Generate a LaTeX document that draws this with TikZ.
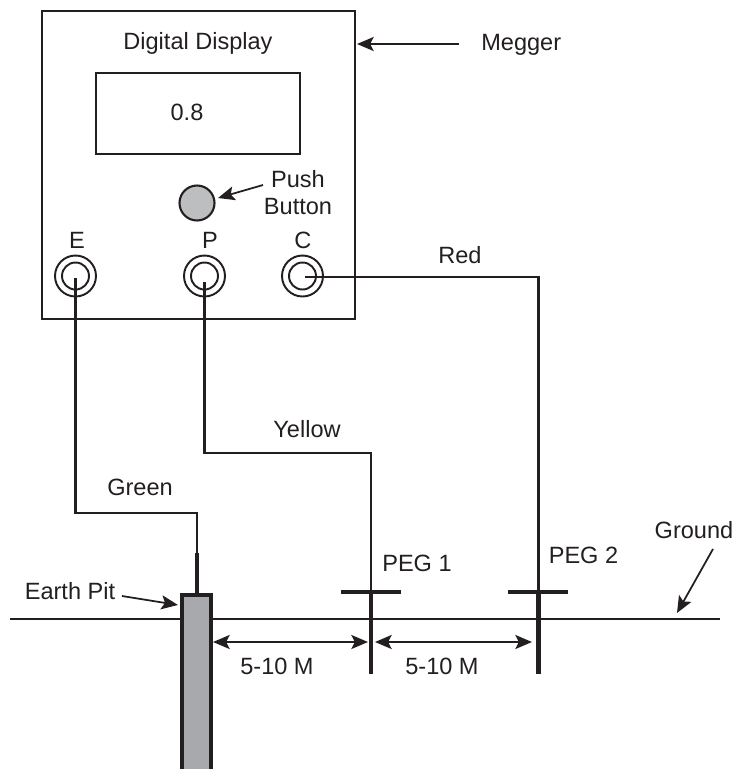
\documentclass[tikz,border=0pt]{standalone}
\usepackage{fontspec}
\setmainfont{Liberation Sans}
\usepackage{tikz}
\usetikzlibrary{arrows.meta}
\definecolor{inkc}{HTML}{231F20}
\definecolor{pitc}{HTML}{A7A9AC}
\definecolor{buttonc}{HTML}{BCBEC0}
\tikzset{
  lbl/.style={inner sep=0pt,font=\fontsize{13.4}{15.5}\selectfont,text=inkc},
  wire/.style={line width=1.2pt,inkc},
  pegline/.style={line width=2.6pt,inkc},
  callout/.style={line width=1pt,inkc,-{Stealth[length=9.5pt,width=8pt,inset=2pt]}},
  dimline/.style={line width=1pt,inkc,{Stealth[length=9.5pt,width=8pt,inset=2pt]}-{Stealth[length=9.5pt,width=8pt,inset=2pt]}}
}
\begin{document}
\begin{tikzpicture}[x=0.02cm,y=-0.02cm]
        \useasboundingbox (0,0) rectangle (735,769);
        % meter
        \node[draw=inkc,line width=1.3pt,minimum width=6.26cm,minimum height=6.16cm,anchor=north west,inner sep=0pt] (megger) at (41,10) {};
        \node[draw=inkc,line width=1.3pt,minimum width=4.08cm,minimum height=1.62cm,anchor=north west,inner sep=0pt] (display) at (95,72) {};
        \node[lbl] (dtext) at (198,43) {Digital Display};
        \node[lbl] (reading) at (187,112) {0.8};
        \node[draw=inkc,circle,fill=buttonc,line width=1.2pt,minimum size=0.7cm,inner sep=0pt] (button) at (197,203) {};
        \node[lbl,align=center] (pushtext) at (298,192.5) {Push\\Button};
        \foreach \n/\x/\lx in {E/75.5/77,P/204.5/210,C/302.5/303}{
          \node[draw=inkc,circle,line width=1.1pt,minimum size=0.82cm,inner sep=0pt] (\n) at (\x,276) {};
          \node[draw=inkc,circle,line width=1.1pt,minimum size=0.54cm,inner sep=0pt] (\n in) at (\x,276) {};
          \node[lbl] at (\lx,240) {\n};}
        % ground and pit
        \coordinate (gl) at (10,619);
        \coordinate (gr) at (720,619);
        \draw[wire] (gl) -- (gr);
        \draw[line width=2.6pt,inkc,fill=pitc] (182,769) -- (182,595) -- (211,595) -- (211,769);
        \coordinate (pittop) at (197,594);
        \coordinate (pitmid) at (197,553);
        \coordinate (ebend) at (75.5,513);
        \draw[wire] (75.5,278) -- (ebend) -| (pitmid);
        \draw[pegline] (pitmid) -- (pittop);
        % pegs
        \coordinate (peg1) at (371,592);
        \coordinate (peg2) at (538.5,592);
        \coordinate (peg1end) at (371,674);
        \coordinate (peg2end) at (538.5,674);
        \draw[pegline] (341,592) -- (401,592);
        \draw[pegline] (508,592) -- (568,592);
        \draw[pegline] (peg1) -- (peg1end);
        \draw[pegline] (peg2) -- (peg2end);
        \draw[wire] (204.5,282) -- (204.5,453) -| (peg1);
        \draw[wire] (305,277) -| (peg2);
        % labels
        \node[lbl] (green) at (140,487) {Green};
        \node[lbl] (yellow) at (307,429) {Yellow};
        \node[lbl] (red) at (460,255) {Red};
        \node[lbl,anchor=west] (megtext) at (481,45) {Megger};
        \node[lbl] (ptext1) at (417,563) {PEG 1};
        \node[lbl] (ptext2) at (583.5,555) {PEG 2};
        \node[lbl] (gtext) at (694,530) {Ground};
        \node[lbl] (pittext) at (70,591) {Earth Pit};
        \node[lbl] (d1) at (277,666) {5-10 M};
        \node[lbl] (d2) at (442,666) {5-10 M};
        % arrows
        \coordinate (m1) at (459,44);
        \coordinate (m2) at (357,44);
        \draw[callout] (m1) -- (m2);
        \coordinate (b1) at (263,185);
        \coordinate (b2) at (218,198);
        \draw[callout] (b1) -- (b2);
        \coordinate (g1) at (713,549);
        \coordinate (g2) at (677,613);
        \draw[callout] (g1) -- (g2);
        \coordinate (p1) at (122,596);
        \coordinate (p2) at (178,605);
        \draw[callout] (p1) -- (p2);
        \coordinate (a1) at (213,642);
        \coordinate (a2) at (368,642);
        \coordinate (a3) at (375,642);
        \coordinate (a4) at (532,642);
        \draw[dimline] (a1) -- (a2);
        \draw[dimline] (a3) -- (a4);
      \end{tikzpicture}
\end{document}
